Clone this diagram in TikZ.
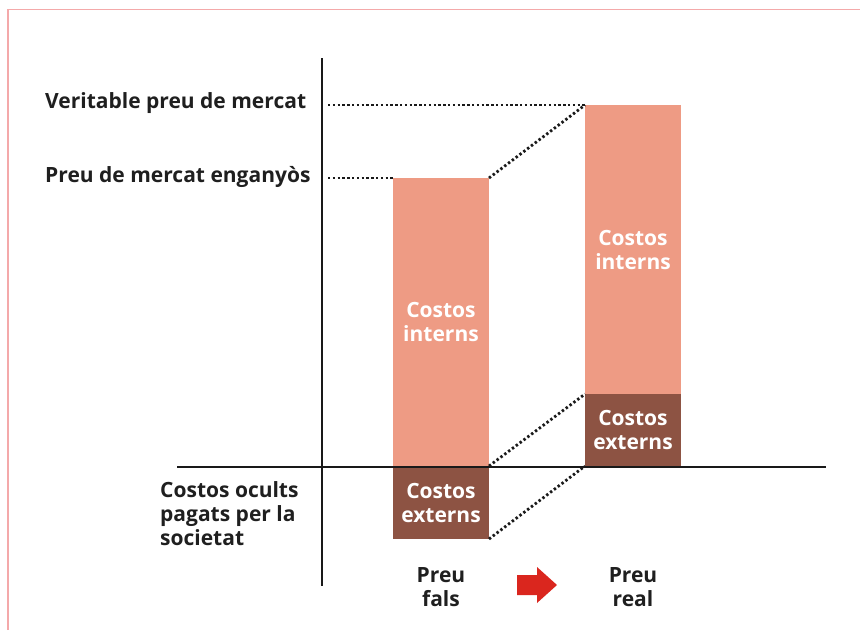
\documentclass[tikz,border=0pt]{standalone}
\usepackage{fontspec}
\setmainfont{Open Sans}
\begin{document}
\begin{tikzpicture}[x=1pt,y=-1pt,
  lbl/.style={font=\fontsize{21}{24}\selectfont\bfseries, text=black!88, inner sep=0pt},
  inlbl/.style={font=\fontsize{21}{24}\selectfont\bfseries, text=white, align=center, inner sep=0pt},
  dots/.style={line width=2.8pt, dash pattern=on 2.4pt off 2.4pt, black!90},
  axis/.style={line width=2.6pt, black!90}]
\definecolor{intc}{HTML}{EE9B84}
\definecolor{extc}{HTML}{8D5343}
\definecolor{arrc}{HTML}{DA261E}
\definecolor{framec}{HTML}{F4A9AA}
\useasboundingbox (0,0) rectangle (860,630);
% frame
\draw[framec, line width=1.3pt] (8,630) -- (8,9.5) -- (860,9.5);
% bars
\fill[intc] (393,178) rectangle (489,466);
\fill[extc] (393,466) rectangle (489,539);
\fill[intc] (585,105) rectangle (681,394);
\fill[extc] (585,394) rectangle (681,466);
% named corners
\coordinate (lt) at (489,178);
\coordinate (ltl) at (393,178);
\coordinate (lm) at (489,466);
\coordinate (lb) at (489,539);
\coordinate (rt) at (585,105);
\coordinate (rm) at (585,394);
\coordinate (rb) at (585,466);
\coordinate (d1) at (328,105);
\coordinate (d2) at (328,178);
% axes
\coordinate (ya) at (322,58);
\coordinate (yb) at (322,586);
\coordinate (xa) at (177,467);
\coordinate (xb) at (826,467);
\draw[axis] (ya) -- (yb);
\draw[axis] (xa) -- (xb);
% dotted lines
\draw[dots] (d1) -- (rt);
\draw[dots] (d2) -- (ltl);
\draw[dots] (lt) -- (rt);
\draw[dots] (lm) -- (rm);
\draw[dots] (lb) -- (rb);
% labels
\node[lbl, anchor=west] (vpm) at (45,103) {Veritable preu de mercat};
\node[lbl, anchor=west] (pme) at (45,177) {Preu de mercat enganyòs};
\node[lbl, anchor=north west, align=left] (cop) at (160,481) {Costos ocults\\pagats per la\\societat};
\node[inlbl] (ci1) at (441,322) {Costos\\interns};
\node[inlbl] (ce1) at (441,503) {Costos\\externs};
\node[inlbl] (ci2) at (633,250) {Costos\\interns};
\node[inlbl] (ce2) at (633,430) {Costos\\externs};
\node[lbl, align=center] (pf) at (441,587) {Preu\\fals};
\node[lbl, align=center] (pr) at (633,587) {Preu\\real};
% red arrow
\fill[arrc] (517,575) -- (537,575) -- (537,567) -- (557,585) -- (537,603) -- (537,595) -- (517,595) -- cycle;
\end{tikzpicture}
\end{document}
